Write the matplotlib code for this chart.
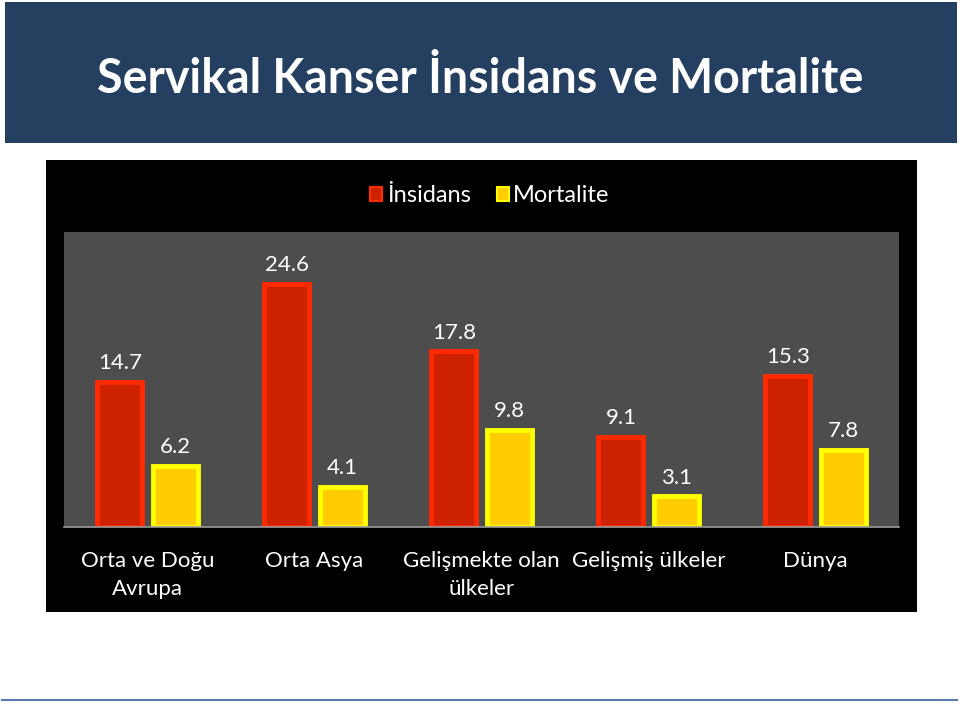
import numpy as np
import matplotlib
matplotlib.use('Agg')
import matplotlib.pyplot as plt
from matplotlib.patches import Rectangle
from matplotlib.lines import Line2D

# Data
categories = ["Orta ve Doğu\nAvrupa", "Orta Asya", "Gelişmekte olan\nülkeler",
              "Gelişmiş ülkeler", "Dünya"]
insidans = [14.7, 24.6, 17.8, 9.1, 15.3]
mortalite = [6.2, 4.1, 9.8, 3.1, 7.8]
series_names = ["İnsidans", "Mortalite"]

plt.rcParams['font.family'] = ['Lato', 'DejaVu Sans']

W, H = 960, 703
fig = plt.figure(figsize=(9.6, 7.03), dpi=100, facecolor='white')

def frac(x0, y0, x1, y1):
    # pixel box (top-left origin) -> figure fraction rect
    return [x0 / W, 1 - y1 / H, (x1 - x0) / W, (y1 - y0) / H]

# title band
l, b, w, h = frac(5, 2, 957, 143)
fig.patches.append(Rectangle((l, b), w, h, transform=fig.transFigure,
                             facecolor='#243f60', edgecolor='none', zorder=-2))
fig.text(0.5, 1 - 79 / H, "Servikal Kanser İnsidans ve Mortalite",
         ha='center', va='center', color='white', fontsize=33.5, fontweight='bold')

# black chart frame
l, b, w, h = frac(46, 160, 917, 612)
fig.patches.append(Rectangle((l, b), w, h, transform=fig.transFigure,
                             facecolor='black', edgecolor='none', zorder=-2))

# bottom rule
fig.add_artist(Line2D([2 / W, 957 / W], [1 - 700 / H] * 2, transform=fig.transFigure,
                      color='#5a7ab0', linewidth=1.5))

ax = fig.add_axes(frac(64, 232, 899, 527))
ax.set_zorder(2)
ax.set_facecolor('#4d4d4d')

x = np.arange(len(categories))
bw = 0.27
off = 0.165
red_bars = ax.bar(x - off, insidans, bw, color='#cc2200', edgecolor='#ff2a00', linewidth=3.5)
yel_bars = ax.bar(x + off, mortalite, bw, color='#ffcc00', edgecolor='#ffff00', linewidth=3.5)

for bars, vals in ((red_bars, insidans), (yel_bars, mortalite)):
    for r, v in zip(bars, vals):
        ax.text(r.get_x() + r.get_width() / 2, v + 0.9, f"{v}", ha='center', va='bottom',
                color='white', fontsize=16)

ax.set_xlim(-0.5, len(categories) - 0.5)
ax.set_ylim(0, 29.9)
ax.set_yticks([])
ax.set_xticks(x)
ax.set_xticklabels(categories, color='white', fontsize=16, linespacing=1.45)
ax.tick_params(axis='x', length=0, pad=17.5)
for s in ('top', 'left', 'right'):
    ax.spines[s].set_visible(False)
ax.spines['bottom'].set_color('#9a9a9a')
ax.spines['bottom'].set_linewidth(1.2)

# legend
handles = [Rectangle((0, 0), 1, 1, facecolor='#cc2200', edgecolor='#ff2a00', linewidth=1.5),
           Rectangle((0, 0), 1, 1, facecolor='#ffcc00', edgecolor='#ffff00', linewidth=1.5)]
fig.legend(handles, series_names, loc='center', bbox_to_anchor=(490 / W, 1 - 196 / H),
           ncol=2, frameon=False, fontsize=17, labelcolor='white',
           handlelength=0.5, handleheight=0.5, handletextpad=0.2, columnspacing=1.1)

fig.savefig('out.png', dpi=100, facecolor='white')
